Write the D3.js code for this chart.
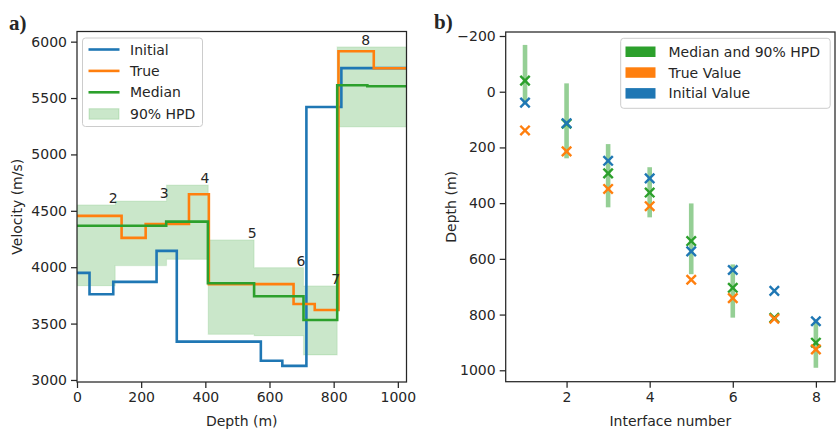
<!DOCTYPE html>
<html>
<head>
<meta charset="utf-8">
<script src="https://cdn.jsdelivr.net/npm/d3@7"></script>
<style>
  html, body { margin: 0; padding: 0; background: #fff; }
  svg { display: block; font-family: "DejaVu Sans", sans-serif; }
</style>
</head>
<body>
<svg id="chart" width="837" height="432"></svg>
<script>
// ---- Panel a: layered velocity models ----
// Interface depths (m), interfaces 1..8
const initialDepths = [39, 113, 248, 311, 573, 640, 715, 824];
const trueDepths    = [139, 214, 349, 411, 675, 741, 815, 925];
// Layer velocities (m/s), 9 layers
const initialVel = [3950, 3760, 3870, 4145, 3340, 3170, 3125, 5420, 5765];
const trueVel    = [4455, 4260, 4383, 4647, 3850, 3674, 3620, 5915, 5764];
// Posterior median model as seen from the surface
const medianTops = [119, 278, 408, 552, 706, 811, 905];
const medianVel  = [4368, 4368, 4404, 3857, 3742, 3532, 5613, 5604];
// 90% HPD velocity band per layer
const hpdTops    = [119, 279, 409, 552, 706, 811];
const hpdVelLow  = [3836, 4014, 4070, 3405, 3393, 3222, 5243];
const hpdVelHigh = [4552, 4587, 4729, 4242, 3996, 3834, 5953];
// Interface number annotations (depth, velocity at text baseline)
const annoText  = ["2", "3", "4", "5", "6", "7", "8"];
const annoDepth = [113, 272, 399, 546, 698, 806, 900];
const annoVel   = [4567, 4611, 4744, 4259, 4014, 3851, 5973];
const velTicks   = [3000, 3500, 4000, 4500, 5000, 5500, 6000];
const depthTicks = [0, 200, 400, 600, 800, 1000];

// ---- Panel b: interface depths ----
const interfaceNum  = [1, 2, 3, 4, 5, 6, 7, 8];
const medianDepths  = [-40, 115, 293, 362, 536, 704, 812, 901];
const hpdDepthLow   = [-168, -30, 188, 271, 401, 620, 805, 819];
const hpdDepthHigh  = [42, 239, 415, 451, 655, 811, 820, 991];
const ifaceTicks    = [2, 4, 6, 8];
const ifaceDepthTicks = [-200, 0, 200, 400, 600, 800, 1000];

const C = { blue: "#1f77b4", orange: "#ff7f0e", green: "#2ca02c", ink: "#262626" };
const FONT = 14;

const svg = d3.select("#chart");
const defs = svg.append("defs");

function styleAxis(g) {
  g.selectAll(".domain").remove();
  g.selectAll(".tick line").attr("stroke", C.ink).attr("stroke-width", 1.25);
  g.selectAll(".tick text").attr("fill", C.ink).attr("font-size", FONT)
    .attr("font-family", "DejaVu Sans, sans-serif");
}

function frame(g, x0, x1, y0, y1) {
  g.append("rect").attr("x", x0).attr("y", y0).attr("width", x1 - x0).attr("height", y1 - y0)
    .attr("fill", "none").attr("stroke", C.ink).attr("stroke-width", 1.25);
}

function minusFmt(v) { return v < 0 ? "\u2212" + Math.abs(v) : String(v); }

// ================= Panel a =================
const A = { left: 77, right: 406.5, top: 31.5, bottom: 382 };
const xa = d3.scaleLinear().domain([0, 1027]).range([A.left, A.right]);
const ya = d3.scaleLinear().domain([2982, 6090]).range([A.bottom, A.top]);

defs.append("clipPath").attr("id", "clipA").append("rect")
  .attr("x", A.left).attr("y", A.top).attr("width", A.right - A.left).attr("height", A.bottom - A.top);

const ga = svg.append("g");
const plotA = ga.append("g").attr("clip-path", "url(#clipA)");

// step points: layer i spans [tops[i-1], tops[i]]
function stepPoints(tops, vel) {
  const pts = [[0, vel[0]]];
  tops.forEach((t, i) => pts.push([t, vel[i + 1]]));
  pts.push([xa.domain()[1], vel[vel.length - 1]]);
  return pts;
}

// HPD band
const bandPts = [[0, hpdVelLow[0], hpdVelHigh[0]]];
hpdTops.forEach((t, i) => bandPts.push([t, hpdVelLow[i + 1], hpdVelHigh[i + 1]]));
bandPts.push([xa.domain()[1], hpdVelLow[hpdVelLow.length - 1], hpdVelHigh[hpdVelHigh.length - 1]]);
const area = d3.area().curve(d3.curveStepAfter)
  .x(d => xa(d[0])).y0(d => ya(d[1])).y1(d => ya(d[2]));
plotA.append("path").attr("d", area(bandPts))
  .attr("fill", C.green).attr("fill-opacity", 0.25)
  .attr("stroke", C.green).attr("stroke-opacity", 0.12).attr("stroke-width", 1.2);

const line = d3.line().curve(d3.curveStepAfter).x(d => xa(d[0])).y(d => ya(d[1]));
[[initialDepths, initialVel, C.blue], [trueDepths, trueVel, C.orange], [medianTops, medianVel, C.green]]
  .forEach(([tops, vel, col]) => {
    plotA.append("path").attr("d", line(stepPoints(tops, vel)))
      .attr("fill", "none").attr("stroke", col).attr("stroke-width", 2.6)
      .attr("stroke-linejoin", "miter");
  });

// interface numbers
annoText.forEach((t, i) => {
  ga.append("text").attr("x", xa(annoDepth[i])).attr("y", ya(annoVel[i]))
    .attr("text-anchor", "middle").attr("font-size", FONT).attr("fill", C.ink).text(t);
});

ga.append("g").attr("transform", `translate(0,${A.bottom})`)
  .call(d3.axisBottom(xa).tickValues(depthTicks).tickSize(6).tickPadding(4).tickFormat(d3.format("d")))
  .call(styleAxis);
ga.append("g").attr("transform", `translate(${A.left},0)`)
  .call(d3.axisLeft(ya).tickValues(velTicks).tickSize(6).tickPadding(4).tickFormat(d3.format("d")))
  .call(styleAxis);
frame(ga, A.left, A.right, A.top, A.bottom);

ga.append("text").attr("x", (A.left + A.right) / 2).attr("y", 426)
  .attr("text-anchor", "middle").attr("font-size", FONT).attr("fill", C.ink).text("Depth (m)");
ga.append("text").attr("transform", `translate(22,${(A.top + A.bottom) / 2}) rotate(-90)`)
  .attr("text-anchor", "middle").attr("font-size", FONT).attr("fill", C.ink).text("Velocity (m/s)");
ga.append("text").attr("x", 9).attr("y", 29.5)
  .attr("font-family", "Liberation Serif, DejaVu Serif, serif").attr("font-weight", "bold")
  .attr("font-size", 21).attr("fill", C.ink).text("a)");

// legend a
const la = ga.append("g");
la.append("rect").attr("x", 82.5).attr("y", 38).attr("width", 120).attr("height", 88.5)
  .attr("rx", 3).attr("fill", "#fff").attr("fill-opacity", 0.8).attr("stroke", "#cccccc").attr("stroke-width", 1);
const legA = [["Initial", C.blue, "line"], ["True", C.orange, "line"], ["Median", C.green, "line"], ["90% HPD", C.green, "patch"]];
legA.forEach(([lab, col, kind], i) => {
  const cy = 49.5 + i * 21.4;
  if (kind === "line") {
    la.append("line").attr("x1", 88.5).attr("x2", 119.5).attr("y1", cy).attr("y2", cy)
      .attr("stroke", col).attr("stroke-width", 2.6);
  } else {
    la.append("rect").attr("x", 89).attr("y", cy - 5).attr("width", 30).attr("height", 10.5)
      .attr("fill", col).attr("fill-opacity", 0.25).attr("stroke", col).attr("stroke-opacity", 0.2);
  }
  la.append("text").attr("x", 130).attr("y", cy + 5).attr("font-size", FONT).attr("fill", C.ink).text(lab);
});

// ================= Panel b =================
const B = { left: 505.7, right: 835, top: 32, bottom: 381.7 };
const xb = d3.scaleLinear().domain([0.535, 8.46]).range([B.left, B.right]);
const yb = d3.scaleLinear().domain([-214.4, 1041]).range([B.top, B.bottom]);

const gb = svg.append("g");

// HPD bars
gb.selectAll("line.hpd").data(interfaceNum).join("line").attr("class", "hpd")
  .attr("x1", d => xb(d)).attr("x2", d => xb(d))
  .attr("y1", (d, i) => yb(hpdDepthLow[i])).attr("y2", (d, i) => yb(hpdDepthHigh[i]))
  .attr("stroke", C.green).attr("stroke-opacity", 0.5).attr("stroke-width", 4.6);

const s = 4.7;
const cross = `M${-s},${-s}L${s},${s}M${-s},${s}L${s},${-s}`;
[[medianDepths, C.green], [trueDepths, C.orange], [initialDepths, C.blue]].forEach(([vals, col]) => {
  gb.append("g").selectAll("path").data(interfaceNum).join("path")
    .attr("transform", (d, i) => `translate(${xb(d)},${yb(vals[i])})`)
    .attr("d", cross).attr("fill", "none").attr("stroke", col).attr("stroke-width", 2.4);
});

gb.append("g").attr("transform", `translate(0,${B.bottom})`)
  .call(d3.axisBottom(xb).tickValues(ifaceTicks).tickSize(6).tickPadding(4).tickFormat(d3.format("d")))
  .call(styleAxis);
gb.append("g").attr("transform", `translate(${B.left},0)`)
  .call(d3.axisLeft(yb).tickValues(ifaceDepthTicks).tickSize(6).tickPadding(4).tickFormat(minusFmt))
  .call(styleAxis);
frame(gb, B.left, B.right, B.top, B.bottom);

gb.append("text").attr("x", (B.left + B.right) / 2).attr("y", 426)
  .attr("text-anchor", "middle").attr("font-size", FONT).attr("fill", C.ink).text("Interface number");
gb.append("text").attr("transform", `translate(456,${(B.top + B.bottom) / 2}) rotate(-90)`)
  .attr("text-anchor", "middle").attr("font-size", FONT).attr("fill", C.ink).text("Depth (m)");
gb.append("text").attr("x", 434).attr("y", 28.5)
  .attr("font-family", "Liberation Serif, DejaVu Serif, serif").attr("font-weight", "bold")
  .attr("font-size", 21).attr("fill", C.ink).text("b)");

// legend b
const lb = gb.append("g");
lb.append("rect").attr("x", 620.7).attr("y", 38.3).attr("width", 209.5).attr("height", 70)
  .attr("rx", 3).attr("fill", "#fff").attr("fill-opacity", 0.8).attr("stroke", "#cccccc").attr("stroke-width", 1);
const legB = [["Median and 90% HPD", C.green], ["True Value", C.orange], ["Initial Value", C.blue]];
legB.forEach(([lab, col], i) => {
  const cy = 51.7 + i * 20.8;
  lb.append("rect").attr("x", 625.5).attr("y", cy - 5.2).attr("width", 30).attr("height", 10.5).attr("fill", col);
  lb.append("text").attr("x", 668.5).attr("y", cy + 5).attr("font-size", FONT).attr("fill", C.ink).text(lab);
});
</script>
</body>
</html>
